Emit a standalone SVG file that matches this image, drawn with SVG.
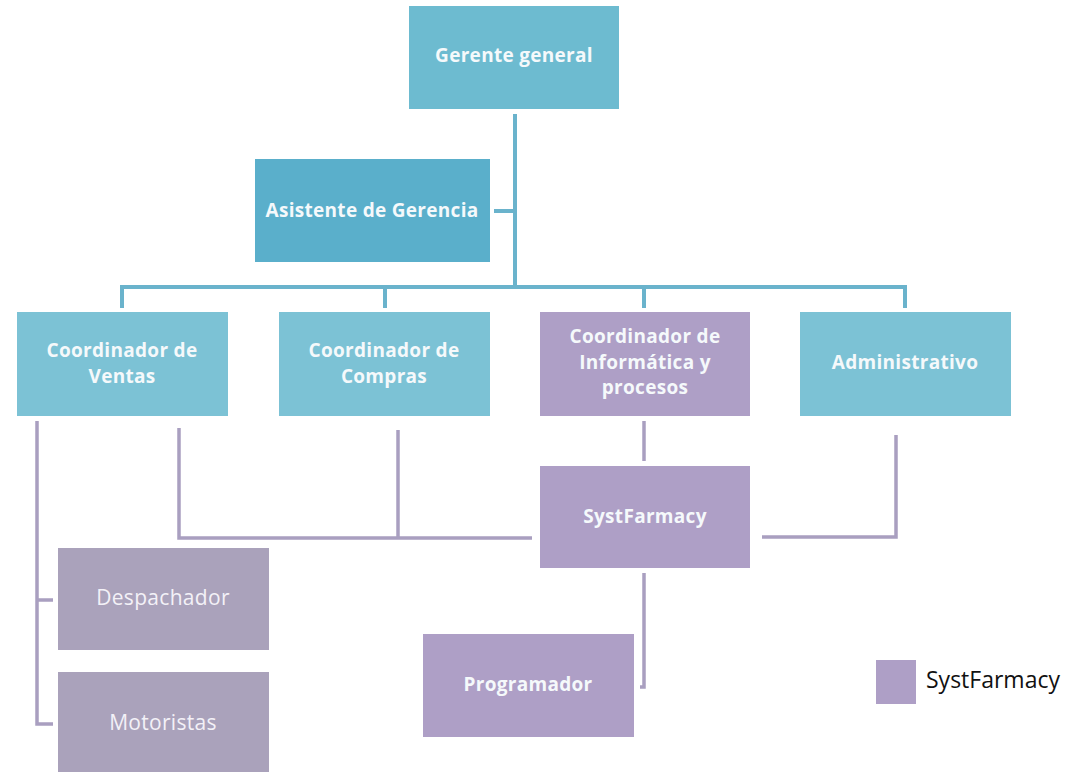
<svg xmlns="http://www.w3.org/2000/svg" width="1065" height="772" viewBox="0 0 1065 772">
  <style>
    .box-blue { fill: #7cc2d5; }
    .box-top { fill: #6dbbd0; }
    .box-asst { fill: #5aafcb; }
    .box-purple { fill: #ae9fc6; }
    .box-grey { fill: #aaa2bb; }
    .lbl { font-family: "Open Sans", "Noto Sans", sans-serif; font-size: 19px; font-weight: 700; fill: #f5f9fb; text-anchor: middle; letter-spacing: 0.3px; }
    .lbl-light { font-family: "Open Sans", "Noto Sans", sans-serif; font-size: 21px; font-weight: 400; fill: #f3f1f7; text-anchor: middle; letter-spacing: 0.3px; }
    .legend-txt { font-family: "Open Sans", "Noto Sans", sans-serif; font-size: 23px; fill: #111111; }
    .link-blue { fill: none; stroke: #6ab3cc; stroke-width: 4; }
    .link-purple { fill: none; stroke: #a99fc0; stroke-width: 3.5; }
  </style>

  <rect width="1065" height="772" fill="#ffffff"/>

  <!-- connectors -->
  <g id="connectors">
    <path class="link-blue" d="M515 114 V287"/>
    <path class="link-blue" d="M494 211 H515"/>
    <path class="link-blue" d="M122 308 V287 H905 V308"/>
    <path class="link-blue" d="M385 287 V308"/>
    <path class="link-blue" d="M644 287 V308"/>

    <path class="link-purple" d="M53 600 H37 V421 M37 600 V724 H53"/>
    <path class="link-purple" d="M179 428 V538 H532"/>
    <path class="link-purple" d="M398 430 V538"/>
    <path class="link-purple" d="M644 421 V461"/>
    <path class="link-purple" d="M762 537 H896 V435"/>
    <path class="link-purple" d="M644 573 V687 H640"/>
  </g>

  <g id="gerente-general">
    <rect class="box-top" x="409" y="6" width="210" height="103"/>
    <text class="lbl" x="514" y="62">Gerente general</text>
  </g>

  <g id="asistente-gerencia">
    <rect class="box-asst" x="255" y="159" width="235" height="103"/>
    <text class="lbl" x="372" y="217">Asistente de Gerencia</text>
  </g>

  <g id="coord-ventas">
    <rect class="box-blue" x="17" y="312" width="211" height="104"/>
    <text class="lbl" x="122" y="357">Coordinador de</text>
    <text class="lbl" x="122" y="383">Ventas</text>
  </g>

  <g id="coord-compras">
    <rect class="box-blue" x="279" y="312" width="211" height="104"/>
    <text class="lbl" x="384" y="357">Coordinador de</text>
    <text class="lbl" x="384" y="383">Compras</text>
  </g>

  <g id="coord-informatica">
    <rect class="box-purple" x="540" y="312" width="210" height="104"/>
    <text class="lbl" x="645" y="343">Coordinador de</text>
    <text class="lbl" x="645" y="369">Informática y</text>
    <text class="lbl" x="645" y="394">procesos</text>
  </g>

  <g id="administrativo">
    <rect class="box-blue" x="800" y="312" width="211" height="104"/>
    <text class="lbl" x="905" y="369">Administrativo</text>
  </g>

  <g id="systfarmacy">
    <rect class="box-purple" x="540" y="466" width="210" height="102"/>
    <text class="lbl" x="645" y="523">SystFarmacy</text>
  </g>

  <g id="programador">
    <rect class="box-purple" x="423" y="634" width="211" height="103"/>
    <text class="lbl" x="528" y="691">Programador</text>
  </g>

  <g id="despachador">
    <rect class="box-grey" x="58" y="548" width="211" height="102"/>
    <text class="lbl-light" x="163" y="605">Despachador</text>
  </g>

  <g id="motoristas">
    <rect class="box-grey" x="58" y="672" width="211" height="100"/>
    <text class="lbl-light" x="163" y="730">Motoristas</text>
  </g>

  <g id="legend">
    <rect class="box-purple" x="876" y="660" width="40" height="44"/>
    <text class="legend-txt" x="926" y="688">SystFarmacy</text>
  </g>
</svg>
